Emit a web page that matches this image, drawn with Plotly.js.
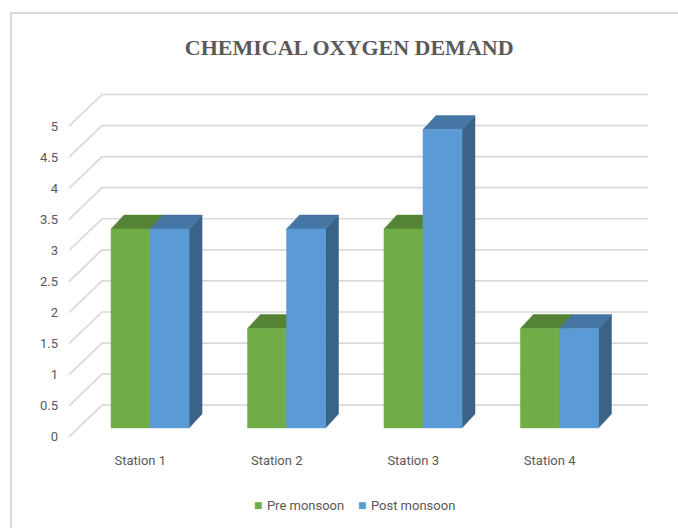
<!DOCTYPE html>
<html>
<head>
<meta charset="utf-8">
<script src="https://cdn.plot.ly/plotly-3.0.1.min.js"></script>
<style>
  html, body { margin: 0; padding: 0; background: #fff; }
  #wrap { position: relative; width: 678px; height: 528px; }
  #chart { position: absolute; left: 0; top: 0; width: 678px; height: 528px; }
  #frame { position: absolute; left: 10px; top: 12px; width: 680px; height: 530px;
           border-top: 2px solid #d9d9d9; border-left: 2px solid #d9d9d9; pointer-events: none; }
</style>
</head>
<body>
<div id="wrap"><div id="chart"></div><div id="frame"></div></div>
<script>
// ---- data ----
const categories = ["Station 1", "Station 2", "Station 3", "Station 4"];
const preMonsoon = [3.2, 1.6, 3.2, 1.6];
const postMonsoon = [3.2, 3.2, 4.8, 1.6];
const seriesNames = ["Pre monsoon", "Post monsoon"];
const yTickVals = [0, 0.5, 1, 1.5, 2, 2.5, 3, 3.5, 4, 4.5, 5];
const yTickText = ["0", "0.5", "1", "1.5", "2", "2.5", "3", "3.5", "4", "4.5", "5"];

// ---- pseudo-3D geometry (in axis units) ----
const DX = 0.242, DY = 0.51;      // depth of back wall
const C0 = 0.094, B = 0.145;      // bar group offset and bar floor
const W = 0.286;                  // width of one bar face
const TX = 0.095, TY = 0.225;     // bar depth
const LABEL_SHIFT = 0.022;        // category label offset

const palette = {
  pre:  {front: "#70ad47", top: "#568437", side: "#4b742f"},
  post: {front: "#5b9bd5", top: "#4676a3", side: "#3a6387"}
};

const traces = [];

// back wall gridlines + left wall diagonals
const gx = [], gy = [];
yTickVals.forEach(v => {
  gx.push(-0.5, -0.5 + DX, 3.5 + DX, null);
  gy.push(v, v + DY, v + DY, null);
});
traces.push({type: "scatter", mode: "lines", x: gx, y: gy, hoverinfo: "skip",
  showlegend: false, line: {color: "#d9d9d9", width: 1.7}});

function poly(xs, ys, color) {
  traces.push({type: "scatter", mode: "lines", x: xs.concat([xs[0]]), y: ys.concat([ys[0]]),
    fill: "toself", fillcolor: color, line: {color: color, width: 0.5},
    hoverinfo: "skip", showlegend: false});
}

const seriesList = [[preMonsoon, palette.pre, -W], [postMonsoon, palette.post, 0]];
categories.forEach((c, i) => {
  seriesList.forEach(([vals, col, off]) => {
    const v = vals[i];
    const x0 = i + C0 + off, x1 = x0 + W;
    const yb = B, yt = B + v;
    poly([x1, x1 + TX, x1 + TX, x1], [yb, yb + TY, yt + TY, yt], col.side);   // side
    poly([x0, x1, x1 + TX, x0 + TX], [yt, yt, yt + TY, yt + TY], col.top);    // top
    poly([x0, x1, x1, x0], [yb, yb, yt, yt], col.front);                      // front
  });
});

const fontFam = "Roboto, 'Open Sans', sans-serif";
const tickFont = {family: fontFam, size: 13, color: "#595959"};

// legend drawn as text annotations (compact Office-style legend)
const legendColors = [palette.pre.front, palette.post.front];
const legendX = [0.316, 0.495];
const annotations = seriesNames.map((n, k) => ({
  xref: "paper", yref: "paper", x: legendX[k], y: -0.1868, xanchor: "left", yanchor: "middle",
  showarrow: false, font: {family: fontFam, size: 13, color: "#595959"},
  text: '<span style="color:' + legendColors[k] + ';font-size:14px">■</span>&#8196;' + n
}));

const layout = {
  width: 678, height: 528,
  margin: {l: 69, r: 29, t: 92, b: 88, pad: 0},
  paper_bgcolor: "#ffffff", plot_bgcolor: "#ffffff",
  title: {
    text: "<b>CHEMICAL OXYGEN DEMAND</b>",
    font: {family: "'Liberation Serif', 'DejaVu Serif', serif", size: 22, color: "#595959"},
    xref: "container", x: 0.515, yref: "container", y: 0.911, yanchor: "middle", xanchor: "center"
  },
  xaxis: {
    range: [-0.5, 3.75], showgrid: false, zeroline: false, showline: false,
    tickvals: categories.map((c, i) => i + LABEL_SHIFT), ticktext: categories, ticks: "", tickfont: tickFont,
    ticklabelstandoff: 11, fixedrange: true
  },
  yaxis: {
    range: [-0.05, 5.55], showgrid: false, zeroline: false, showline: false,
    tickvals: yTickVals, ticktext: yTickText, ticks: "", tickfont: tickFont,
    ticklabelstandoff: 10, fixedrange: true
  },
  showlegend: false,
  annotations: annotations
};

Plotly.newPlot("chart", traces, layout, {displayModeBar: false, staticPlot: true});
</script>
</body>
</html>
